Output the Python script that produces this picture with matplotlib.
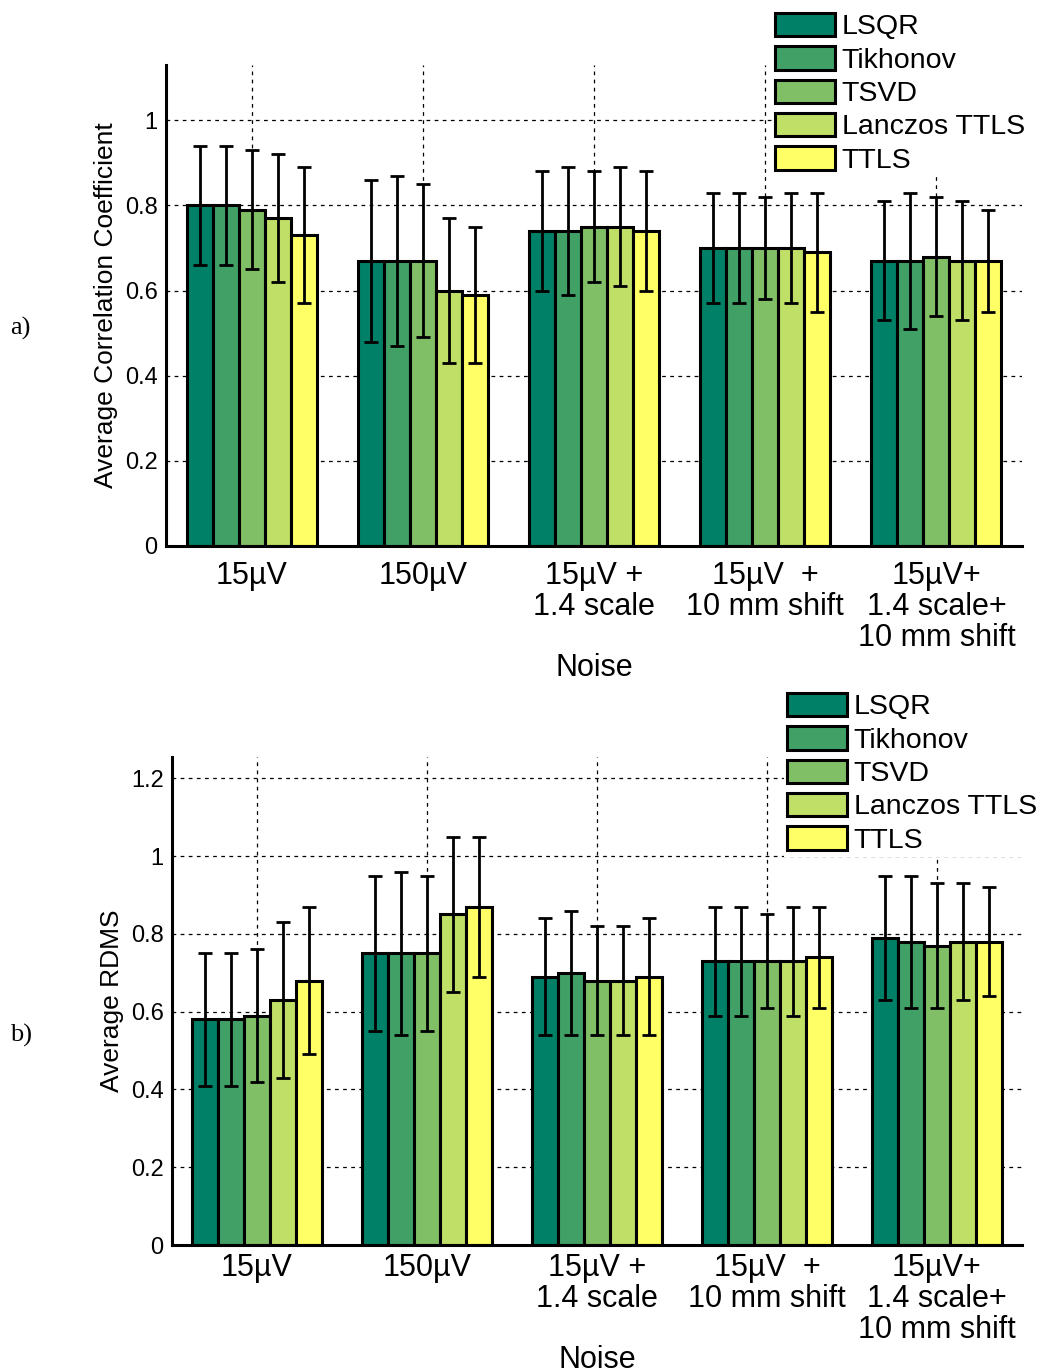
import numpy as np
import matplotlib.pyplot as plt

plt.rcParams['font.family'] = ['Liberation Sans', 'DejaVu Sans']

methods = ['LSQR', 'Tikhonov', 'TSVD', 'Lanczos TTLS', 'TTLS']
noise_labels = ['15\u00b5V', '150\u00b5V', '15\u00b5V +\n1.4 scale',
                '15\u00b5V  +\n10 mm shift', '15\u00b5V+\n1.4 scale+\n10 mm shift']
# summer colormap, 5 steps
colors = ['#008066', '#40a066', '#80bf66', '#bfdf66', '#ffff66']

# average correlation coefficient, one row per method
corr_mean = [
    [0.80, 0.67, 0.74, 0.70, 0.67],
    [0.80, 0.67, 0.74, 0.70, 0.67],
    [0.79, 0.67, 0.75, 0.70, 0.68],
    [0.77, 0.60, 0.75, 0.70, 0.67],
    [0.73, 0.59, 0.74, 0.69, 0.67],
]
corr_err = [
    [0.14, 0.19, 0.14, 0.13, 0.14],
    [0.14, 0.20, 0.15, 0.13, 0.16],
    [0.14, 0.18, 0.13, 0.12, 0.14],
    [0.15, 0.17, 0.14, 0.13, 0.14],
    [0.16, 0.16, 0.14, 0.14, 0.12],
]

# average RDMS
rdms_mean = [
    [0.58, 0.75, 0.69, 0.73, 0.79],
    [0.58, 0.75, 0.70, 0.73, 0.78],
    [0.59, 0.75, 0.68, 0.73, 0.77],
    [0.63, 0.85, 0.68, 0.73, 0.78],
    [0.68, 0.87, 0.69, 0.74, 0.78],
]
rdms_err = [
    [0.17, 0.20, 0.15, 0.14, 0.16],
    [0.17, 0.21, 0.16, 0.14, 0.17],
    [0.17, 0.20, 0.14, 0.12, 0.16],
    [0.20, 0.20, 0.14, 0.14, 0.15],
    [0.19, 0.18, 0.15, 0.13, 0.14],
]


def draw_bars(ax, means, errs, ymax, yticks, ylabel, legend_xy, tickpad, xlabelpad):
    x = np.arange(1, len(noise_labels) + 1)
    w = 0.152
    for i, name in enumerate(methods):
        pos = x + (i - 2) * w
        ax.bar(pos, means[i], width=w, color=colors[i], edgecolor='black',
               linewidth=2.2, label=name, zorder=2)
        ax.errorbar(pos, means[i], yerr=errs[i], fmt='none', ecolor='black',
                    elinewidth=2, capsize=5, capthick=2, zorder=3)

    ax.set_xlim(0.5, 5.5)
    ax.set_ylim(0, ymax)
    ax.set_xticks(x)
    ax.set_xticklabels(noise_labels, fontsize=22, linespacing=1.03)
    ax.set_yticks(yticks)
    ax.set_yticklabels([f'{t:g}' for t in yticks], fontsize=17)
    ax.tick_params(axis='both', length=0)
    ax.tick_params(axis='x', pad=tickpad)
    ax.tick_params(axis='y', pad=6)

    ax.grid(True, color='black', linestyle=(0, (3, 3.5)), linewidth=0.9)
    ax.set_axisbelow(True)
    for s in ['top', 'right']:
        ax.spines[s].set_visible(False)
    for s in ['left', 'bottom']:
        ax.spines[s].set_linewidth(2.2)

    ax.set_xlabel('Noise', fontsize=22, labelpad=xlabelpad)
    ax.set_ylabel(ylabel, fontsize=19)
    ax.yaxis.set_label_coords(-0.056, 0.5)

    leg = ax.legend(loc='upper left', bbox_to_anchor=legend_xy,
                    bbox_transform=ax.figure.transFigure, fontsize=20.5,
                    frameon=True, fancybox=False, borderpad=0.1,
                    handlelength=2.1, handleheight=0.9, handletextpad=0.25,
                    labelspacing=0.2, borderaxespad=0)
    leg.get_frame().set_edgecolor('none')
    leg.get_frame().set_facecolor('white')
    leg.get_frame().set_alpha(1)
    for h in leg.legend_handles:
        h.set_linewidth(2.2)


fig = plt.figure(figsize=(10.46, 13.72), dpi=100)

ax1 = fig.add_axes([166 / 1046, 1 - 546 / 1372, 856 / 1046, 481 / 1372])
draw_bars(ax1, corr_mean, corr_err, 1.13, [0, 0.2, 0.4, 0.6, 0.8, 1.0],
          'Average Correlation Coefficient', (772 / 1046, 1 - 10 / 1372), 11, 0)

ax2 = fig.add_axes([172 / 1046, 1 - 1245 / 1372, 850 / 1046, 488 / 1372])
draw_bars(ax2, rdms_mean, rdms_err, 1.255, [0, 0.2, 0.4, 0.6, 0.8, 1.0, 1.2],
          'Average RDMS', (784 / 1046, 1 - 690 / 1372), 6, 0)

fig.text(10 / 1046, 1 - 328 / 1372, 'a)', fontsize=19, family='Liberation Serif',
         va='center', ha='left')
fig.text(10 / 1046, 1 - 1035 / 1372, 'b)', fontsize=19, family='Liberation Serif',
         va='center', ha='left')

fig.savefig('out.png', dpi=100, facecolor='white')
